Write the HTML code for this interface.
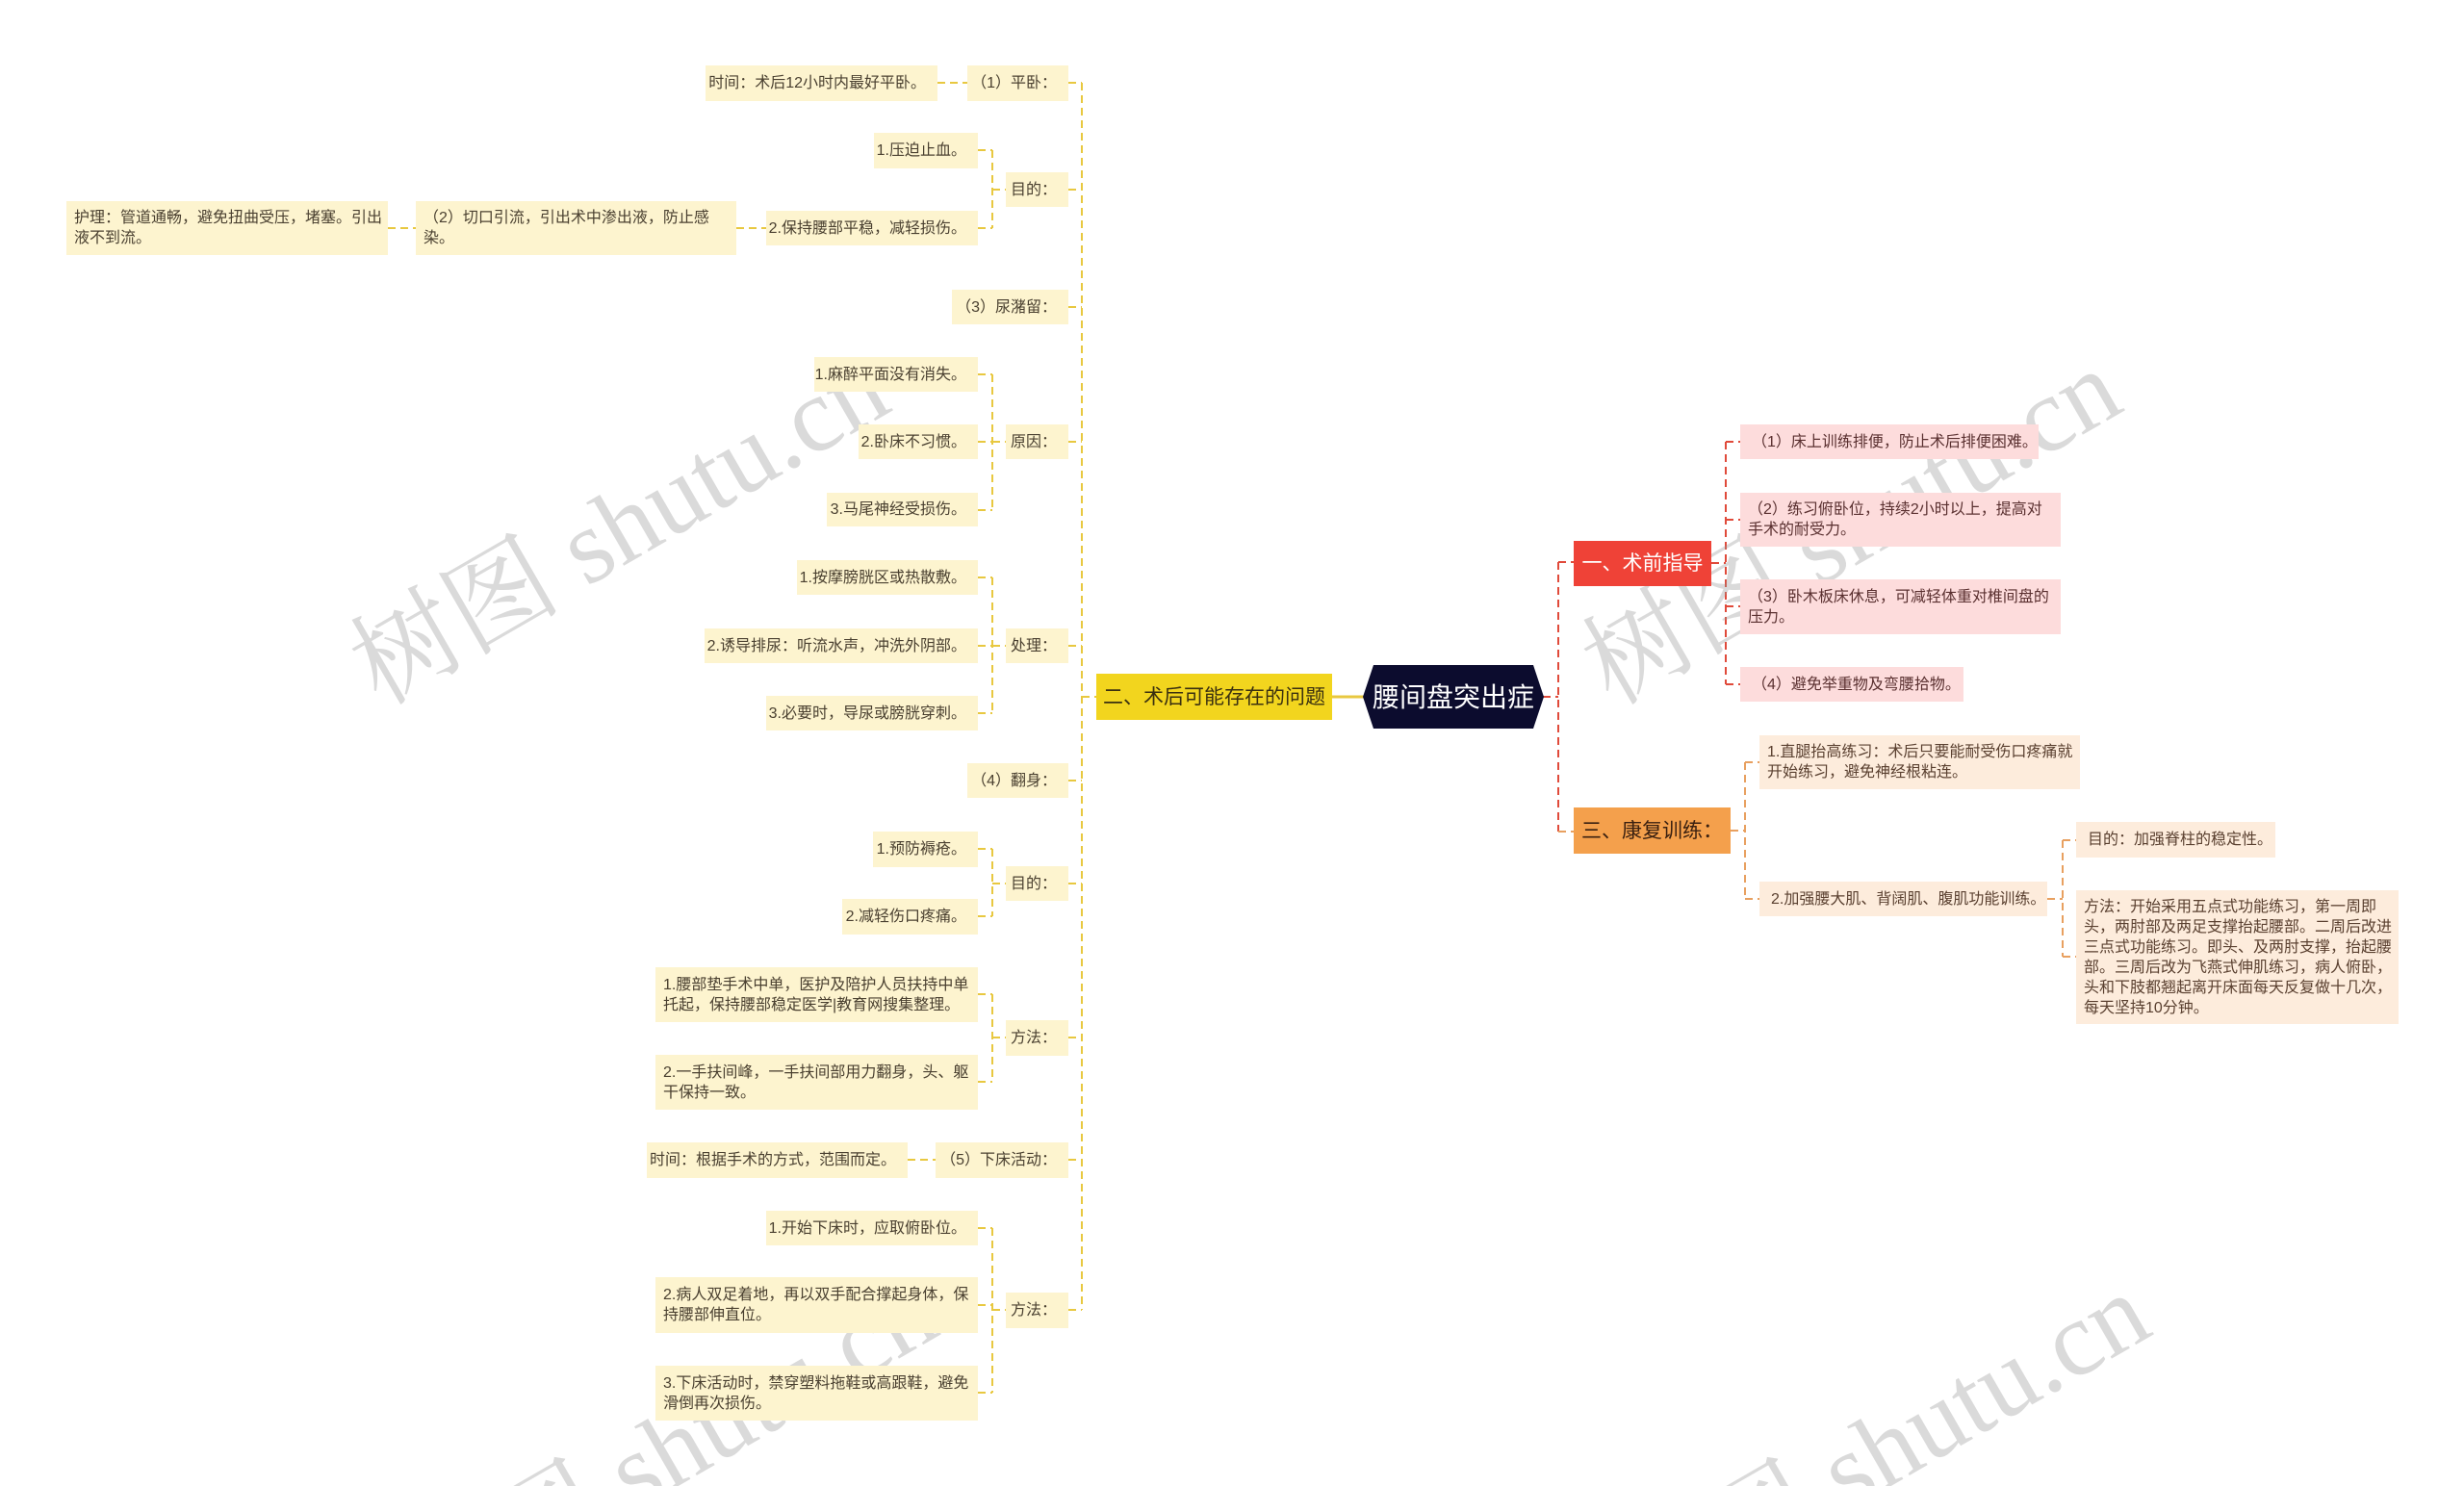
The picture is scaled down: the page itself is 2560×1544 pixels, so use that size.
<!DOCTYPE html>
<html><head><meta charset="utf-8">
<style>
html,body{margin:0;padding:0;overflow:hidden;}
#w{width:2560px;height:1544px;background:#fff;position:relative;overflow:hidden;font-family:"Liberation Sans","Noto Sans CJK SC",sans-serif;}
.b{position:absolute;box-sizing:border-box;background:#fdf4cf;color:#4a4030;font-size:16px;line-height:21px;display:flex;align-items:center;justify-content:flex-end;padding:0 12px;white-space:nowrap;}
.m{white-space:normal;justify-content:flex-start;padding:0 6px 0 8px;}
.p{background:#fddcdc;color:#5a3030;}
.o{background:#fdecdc;color:#5a4030;}
.wm{position:absolute;color:rgba(150,150,150,0.35);font-family:"Liberation Serif","Noto Serif CJK SC",serif;font-size:110px;transform:rotate(-30deg);white-space:nowrap;transform-origin:center;}
</style></head><body><div id="w">
<svg width="2560" height="1544" style="position:absolute;left:0;top:0" fill="none" stroke-width="2" stroke-dasharray="8,5">
<g stroke="#e8c840">
<path d="M1124 86V1361"/>
<path d="M1110 86H1124M1110 197H1124M1110 319H1124M1110 459H1124M1110 671H1124M1110 811H1124M1110 918H1124M1110 1078H1124M1110 1205H1124M1110 1361H1124M1124 724H1139"/>
<path d="M974 86H1005"/>
<path d="M1031 156V237M1016 156H1031M1016 237H1031M1031 197H1045"/>
<path d="M765 237H796M403 237H432"/>
<path d="M1031 389V530M1016 389H1031M1016 459H1031M1016 530H1031M1031 459H1045"/>
<path d="M1031 600V741M1016 600H1031M1016 671H1031M1016 741H1031M1031 671H1045"/>
<path d="M1031 882V952M1016 882H1031M1016 952H1031M1031 918H1045"/>
<path d="M1031 1033V1124M1016 1033H1031M1016 1124H1031M1031 1078H1045"/>
<path d="M943 1205H972"/>
<path d="M1031 1276V1447M1016 1276H1031M1016 1356H1031M1016 1447H1031M1031 1361H1045"/>
<path d="M1384 724H1417" stroke-dasharray="none" stroke-width="3"/>
</g>
<g stroke="#e04a3a">
<path d="M1603 724H1619M1619 584V864M1619 584H1635"/>
<path d="M1778 585H1793M1793 459V711M1793 459H1808M1793 540H1808M1793 630H1808M1793 711H1808"/>
</g>
<g stroke="#e8a060">
<path d="M1619 864H1635"/>
<path d="M1798 863H1813M1813 792V934M1813 792H1828M1813 934H1828"/>
<path d="M2127 934H2143M2143 873V994M2143 873H2157M2143 994H2157"/>
</g>
</svg>

<div class="wm" style="left:330px;top:460px">树图 shutu.cn</div>
<div class="wm" style="left:1610px;top:460px">树图 shutu.cn</div>
<div class="wm" style="left:380px;top:1420px">树图 shutu.cn</div>
<div class="wm" style="left:1640px;top:1420px">树图 shutu.cn</div>

<div class="b" style="left:733px;top:68px;width:241px;height:37px">时间：术后12小时内最好平卧。</div>
<div class="b" style="left:1005px;top:68px;width:105px;height:37px">（1）平卧：</div>
<div class="b" style="left:908px;top:138px;width:108px;height:37px">1.压迫止血。</div>
<div class="b" style="left:1045px;top:179px;width:65px;height:36px">目的：</div>
<div class="b" style="left:796px;top:219px;width:220px;height:36px">2.保持腰部平稳，减轻损伤。</div>
<div class="b m" style="left:432px;top:209px;width:333px;height:56px">（2）切口引流，引出术中渗出液，防止感染。</div>
<div class="b m" style="left:69px;top:209px;width:334px;height:56px">护理：管道通畅，避免扭曲受压，堵塞。引出液不到流。</div>
<div class="b" style="left:989px;top:301px;width:121px;height:36px">（3）尿潴留：</div>
<div class="b" style="left:846px;top:371px;width:170px;height:36px">1.麻醉平面没有消失。</div>
<div class="b" style="left:1045px;top:441px;width:65px;height:36px">原因：</div>
<div class="b" style="left:892px;top:441px;width:124px;height:36px">2.卧床不习惯。</div>
<div class="b" style="left:859px;top:512px;width:157px;height:35px">3.马尾神经受损伤。</div>
<div class="b" style="left:828px;top:582px;width:188px;height:36px">1.按摩膀胱区或热散敷。</div>
<div class="b" style="left:1045px;top:653px;width:65px;height:36px">处理：</div>
<div class="b" style="left:732px;top:653px;width:284px;height:36px">2.诱导排尿：听流水声，冲洗外阴部。</div>
<div class="b" style="left:796px;top:723px;width:220px;height:36px">3.必要时，导尿或膀胱穿刺。</div>
<div class="b" style="left:1005px;top:793px;width:105px;height:36px">（4）翻身：</div>
<div class="b" style="left:907px;top:864px;width:109px;height:37px">1.预防褥疮。</div>
<div class="b" style="left:1045px;top:900px;width:65px;height:36px">目的：</div>
<div class="b" style="left:875px;top:934px;width:141px;height:37px">2.减轻伤口疼痛。</div>
<div class="b m" style="left:681px;top:1005px;width:335px;height:57px">1.腰部垫手术中单，医护及陪护人员扶持中单托起，保持腰部稳定医学|教育网搜集整理。</div>
<div class="b" style="left:1045px;top:1060px;width:65px;height:37px">方法：</div>
<div class="b m" style="left:681px;top:1096px;width:335px;height:57px">2.一手扶间峰，一手扶间部用力翻身，头、躯干保持一致。</div>
<div class="b" style="left:672px;top:1187px;width:271px;height:37px">时间：根据手术的方式，范围而定。</div>
<div class="b" style="left:972px;top:1187px;width:138px;height:37px">（5）下床活动：</div>
<div class="b" style="left:796px;top:1258px;width:220px;height:36px">1.开始下床时，应取俯卧位。</div>
<div class="b" style="left:1045px;top:1343px;width:65px;height:37px">方法：</div>
<div class="b m" style="left:681px;top:1327px;width:335px;height:58px">2.病人双足着地，再以双手配合撑起身体，保持腰部伸直位。</div>
<div class="b m" style="left:681px;top:1419px;width:335px;height:57px">3.下床活动时，禁穿塑料拖鞋或高跟鞋，避免滑倒再次损伤。</div>

<div class="b" style="left:1139px;top:700px;width:245px;height:48px;background:#f2d51e;color:#3a3010;font-size:21px;justify-content:center;padding:0">二、术后可能存在的问题</div>

<svg width="190" height="68" style="position:absolute;left:1415px;top:690px">
<polygon points="12,1 178,1 189,34 178,67 12,67 1,34" fill="#0c0c2e"/>
<text x="95" y="44" text-anchor="middle" fill="#fff" font-size="28" font-family="Liberation Sans, Noto Sans CJK SC, sans-serif">腰间盘突出症</text>
</svg>

<div class="b" style="left:1635px;top:562px;width:143px;height:47px;background:#ef4237;color:#fff;font-size:21px;justify-content:center;padding:0">一、术前指导</div>
<div class="b" style="left:1635px;top:839px;width:163px;height:48px;background:#f4a04c;color:#3a2010;font-size:21px;justify-content:center;padding:0">三、康复训练：</div>

<div class="b p" style="left:1808px;top:441px;width:310px;height:36px;justify-content:flex-start">（1）床上训练排便，防止术后排便困难。</div>
<div class="b p m" style="left:1808px;top:512px;width:333px;height:56px">（2）练习俯卧位，持续2小时以上，提高对手术的耐受力。</div>
<div class="b p m" style="left:1808px;top:602px;width:333px;height:57px">（3）卧木板床休息，可减轻体重对椎间盘的压力。</div>
<div class="b p" style="left:1808px;top:693px;width:232px;height:36px;justify-content:flex-start">（4）避免举重物及弯腰拾物。</div>
<div class="b o m" style="left:1828px;top:764px;width:333px;height:56px">1.直腿抬高练习：术后只要能耐受伤口疼痛就开始练习，避免神经根粘连。</div>
<div class="b o" style="left:1828px;top:916px;width:299px;height:36px;justify-content:flex-start">2.加强腰大肌、背阔肌、腹肌功能训练。</div>
<div class="b o" style="left:2157px;top:854px;width:207px;height:37px;justify-content:flex-start">目的：加强脊柱的稳定性。</div>
<div class="b o m" style="left:2157px;top:925px;width:335px;height:139px">方法：开始采用五点式功能练习，第一周即头，两肘部及两足支撑抬起腰部。二周后改进三点式功能练习。即头、及两肘支撑，抬起腰部。三周后改为飞燕式伸肌练习，病人俯卧，头和下肢都翘起离开床面每天反复做十几次，每天坚持10分钟。</div>
</div></body></html>
